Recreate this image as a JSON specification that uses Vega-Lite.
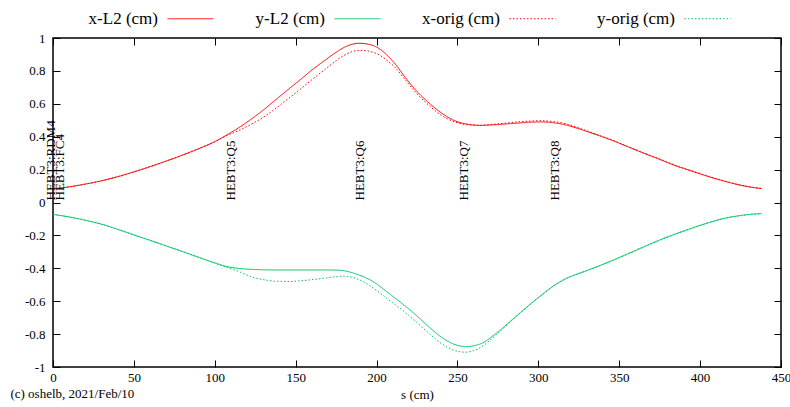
{
  "$schema": "https://vega.github.io/schema/vega-lite/v6.json",
  "width": 728,
  "height": 329,
  "autosize": {"type": "none"},
  "padding": {"left": 53, "top": 38, "right": 9, "bottom": 40},
  "background": "white",
  "config": {
    "font": "Liberation Serif",
    "view": {"stroke": "black", "strokeWidth": 1.5},
    "axis": {
      "labelFont": "Liberation Serif",
      "labelFontSize": 13,
      "labelColor": "black",
      "tickColor": "black",
      "tickWidth": 1,
      "domain": false,
      "grid": false,
      "titleFont": "Liberation Serif",
      "titleFontSize": 13,
      "titleFontWeight": "normal",
      "titleColor": "black"
    },
    "legend": {
      "orient": "none",
      "legendX": 114,
      "legendY": -43,
      "direction": "horizontal",
      "title": null,
      "symbolType": "stroke",
      "symbolSize": 2116,
      "symbolStrokeWidth": 1,
      "labelFont": "Liberation Serif",
      "labelFontSize": 17,
      "labelColor": "black",
      "labelAlign": "right",
      "labelOffset": -56,
      "columnPadding": 39,
      "gridAlign": "each",
      "labelLimit": 200
    }
  },
  "title": {
    "text": "(c) oshelb, 2021/Feb/10",
    "orient": "bottom",
    "anchor": "start",
    "frame": "bounds",
    "font": "Liberation Serif",
    "fontSize": 13,
    "fontWeight": "normal",
    "color": "black",
    "offset": -13,
    "dx": -14
  },
  "datasets": {
    "optics": [
      {"s": 0, "xL2": 0.083, "yL2": -0.072, "xorig": 0.083, "yorig": -0.072},
      {"s": 10, "xL2": 0.095, "yL2": -0.088, "xorig": 0.095, "yorig": -0.088},
      {"s": 20, "xL2": 0.112, "yL2": -0.108, "xorig": 0.112, "yorig": -0.108},
      {"s": 30, "xL2": 0.132, "yL2": -0.132, "xorig": 0.132, "yorig": -0.132},
      {"s": 40, "xL2": 0.157, "yL2": -0.163, "xorig": 0.157, "yorig": -0.163},
      {"s": 50, "xL2": 0.186, "yL2": -0.197, "xorig": 0.186, "yorig": -0.197},
      {"s": 60, "xL2": 0.218, "yL2": -0.23, "xorig": 0.218, "yorig": -0.23},
      {"s": 70, "xL2": 0.252, "yL2": -0.264, "xorig": 0.252, "yorig": -0.264},
      {"s": 80, "xL2": 0.288, "yL2": -0.298, "xorig": 0.288, "yorig": -0.298},
      {"s": 90, "xL2": 0.327, "yL2": -0.333, "xorig": 0.327, "yorig": -0.333},
      {"s": 100, "xL2": 0.37, "yL2": -0.367, "xorig": 0.369, "yorig": -0.369},
      {"s": 107, "xL2": 0.408, "yL2": -0.388, "xorig": 0.405, "yorig": -0.393},
      {"s": 115, "xL2": 0.456, "yL2": -0.401, "xorig": 0.438, "yorig": -0.42},
      {"s": 122, "xL2": 0.503, "yL2": -0.406, "xorig": 0.473, "yorig": -0.45},
      {"s": 130, "xL2": 0.562, "yL2": -0.409, "xorig": 0.518, "yorig": -0.469},
      {"s": 137, "xL2": 0.619, "yL2": -0.41, "xorig": 0.567, "yorig": -0.478},
      {"s": 145, "xL2": 0.684, "yL2": -0.41, "xorig": 0.628, "yorig": -0.48},
      {"s": 153, "xL2": 0.748, "yL2": -0.41, "xorig": 0.69, "yorig": -0.476},
      {"s": 160, "xL2": 0.805, "yL2": -0.41, "xorig": 0.746, "yorig": -0.469},
      {"s": 168, "xL2": 0.864, "yL2": -0.41, "xorig": 0.808, "yorig": -0.46},
      {"s": 175, "xL2": 0.913, "yL2": -0.411, "xorig": 0.862, "yorig": -0.451},
      {"s": 180, "xL2": 0.943, "yL2": -0.415, "xorig": 0.895, "yorig": -0.448},
      {"s": 185, "xL2": 0.962, "yL2": -0.427, "xorig": 0.917, "yorig": -0.455},
      {"s": 189, "xL2": 0.968, "yL2": -0.44, "xorig": 0.925, "yorig": -0.468},
      {"s": 195, "xL2": 0.962, "yL2": -0.465, "xorig": 0.92, "yorig": -0.5},
      {"s": 200, "xL2": 0.945, "yL2": -0.495, "xorig": 0.905, "yorig": -0.535},
      {"s": 206, "xL2": 0.9, "yL2": -0.54, "xorig": 0.868, "yorig": -0.58},
      {"s": 212, "xL2": 0.836, "yL2": -0.585, "xorig": 0.815, "yorig": -0.625},
      {"s": 218, "xL2": 0.757, "yL2": -0.632, "xorig": 0.742, "yorig": -0.67},
      {"s": 225, "xL2": 0.675, "yL2": -0.69, "xorig": 0.661, "yorig": -0.73},
      {"s": 233, "xL2": 0.6, "yL2": -0.762, "xorig": 0.585, "yorig": -0.8},
      {"s": 240, "xL2": 0.545, "yL2": -0.818, "xorig": 0.53, "yorig": -0.857},
      {"s": 247, "xL2": 0.503, "yL2": -0.858, "xorig": 0.495, "yorig": -0.895},
      {"s": 255, "xL2": 0.478, "yL2": -0.876, "xorig": 0.474, "yorig": -0.91},
      {"s": 264, "xL2": 0.469, "yL2": -0.86, "xorig": 0.469, "yorig": -0.882},
      {"s": 275, "xL2": 0.474, "yL2": -0.787, "xorig": 0.478, "yorig": -0.795},
      {"s": 285, "xL2": 0.481, "yL2": -0.702, "xorig": 0.488, "yorig": -0.705},
      {"s": 295, "xL2": 0.488, "yL2": -0.618, "xorig": 0.495, "yorig": -0.619},
      {"s": 301, "xL2": 0.49, "yL2": -0.57, "xorig": 0.497, "yorig": -0.571},
      {"s": 310, "xL2": 0.484, "yL2": -0.503, "xorig": 0.491, "yorig": -0.504},
      {"s": 318, "xL2": 0.469, "yL2": -0.458, "xorig": 0.476, "yorig": -0.459},
      {"s": 326, "xL2": 0.445, "yL2": -0.428, "xorig": 0.45, "yorig": -0.429},
      {"s": 335, "xL2": 0.415, "yL2": -0.395, "xorig": 0.418, "yorig": -0.396},
      {"s": 345, "xL2": 0.38, "yL2": -0.355, "xorig": 0.382, "yorig": -0.357},
      {"s": 355, "xL2": 0.34, "yL2": -0.313, "xorig": 0.342, "yorig": -0.315},
      {"s": 365, "xL2": 0.3, "yL2": -0.27, "xorig": 0.302, "yorig": -0.272},
      {"s": 375, "xL2": 0.262, "yL2": -0.228, "xorig": 0.264, "yorig": -0.23},
      {"s": 385, "xL2": 0.223, "yL2": -0.19, "xorig": 0.225, "yorig": -0.192},
      {"s": 396, "xL2": 0.187, "yL2": -0.152, "xorig": 0.189, "yorig": -0.154},
      {"s": 406, "xL2": 0.155, "yL2": -0.12, "xorig": 0.157, "yorig": -0.122},
      {"s": 416, "xL2": 0.127, "yL2": -0.094, "xorig": 0.128, "yorig": -0.095},
      {"s": 425, "xL2": 0.105, "yL2": -0.079, "xorig": 0.106, "yorig": -0.08},
      {"s": 432, "xL2": 0.092, "yL2": -0.071, "xorig": 0.093, "yorig": -0.072},
      {"s": 438, "xL2": 0.085, "yL2": -0.068, "xorig": 0.086, "yorig": -0.069}
    ],
    "elements": [
      {"name": "HEBT3:RDM4", "s": -1},
      {"name": "HEBT3:FC4", "s": 4.4},
      {"name": "HEBT3:Q5", "s": 110.3},
      {"name": "HEBT3:Q6", "s": 189.7},
      {"name": "HEBT3:Q7", "s": 254.3},
      {"name": "HEBT3:Q8", "s": 310}
    ]
  },
  "layer": [
    {
      "data": {"name": "optics"},
      "transform": [{"fold": ["xL2", "yL2", "xorig", "yorig"], "as": ["series", "v"]}],
      "mark": {"type": "line", "interpolate": "monotone", "strokeWidth": 1, "clip": true},
      "encoding": {
        "x": {
          "field": "s", "type": "quantitative",
          "scale": {"domain": [0, 450], "nice": false, "zero": false},
          "axis": {"orient": "bottom", "values": [0, 50, 100, 150, 200, 250, 300, 350, 400, 450], "tickSize": -7, "labelPadding": 11, "title": "s (cm)", "titlePadding": 4, "labelFlush": false, "labelFont": "Liberation Serif", "titleFont": "Liberation Serif"}
        },
        "y": {
          "field": "v", "type": "quantitative",
          "scale": {"domain": [-1, 1], "nice": false},
          "axis": {"orient": "left", "values": [-1, -0.8, -0.6, -0.4, -0.2, 0, 0.2, 0.4, 0.6, 0.8, 1], "tickSize": -7, "labelPadding": 15, "title": null, "labelExpr": "'' + datum.value", "labelFlush": false, "labelFont": "Liberation Serif"}
        },
        "color": {
          "field": "series", "type": "nominal",
          "scale": {"domain": ["xL2", "yL2", "xorig", "yorig"], "range": ["#ff0000", "#00c864", "#ff0000", "#00c864"]},
          "legend": {"labelFont": "Liberation Serif", "labelExpr": "datum.label == 'xL2' ? 'x-L2 (cm)' : datum.label == 'yL2' ? 'y-L2 (cm)' : datum.label == 'xorig' ? 'x-orig (cm)' : 'y-orig (cm)'"}
        },
        "strokeDash": {
          "field": "series", "type": "nominal",
          "scale": {"domain": ["xL2", "yL2", "xorig", "yorig"], "range": [[1, 0], [1, 0], [1.5, 2], [1.5, 2]]},
          "legend": {"labelFont": "Liberation Serif", "labelExpr": "datum.label == 'xL2' ? 'x-L2 (cm)' : datum.label == 'yL2' ? 'y-L2 (cm)' : datum.label == 'xorig' ? 'x-orig (cm)' : 'y-orig (cm)'"}
        }
      }
    },
    {
      "data": {"name": "elements"},
      "mark": {"type": "text", "angle": 270, "align": "left", "baseline": "middle", "font": "Liberation Serif", "fontSize": 13, "color": "black", "dx": 2},
      "encoding": {
        "x": {"field": "s", "type": "quantitative", "axis": null},
        "y": {"datum": 0, "type": "quantitative", "axis": null},
        "text": {"field": "name"}
      }
    },
    {
      "data": {"name": "elements"},
      "mark": {"type": "point", "opacity": 0},
      "encoding": {
        "x": {
          "field": "s", "type": "quantitative",
          "scale": {"domain": [0, 450], "nice": false, "zero": false},
          "axis": {"orient": "top", "values": [0, 50, 100, 150, 200, 250, 300, 350, 400, 450], "tickSize": -7, "labels": false, "title": null}
        },
        "y": {
          "datum": 0, "type": "quantitative",
          "scale": {"domain": [-1, 1], "nice": false},
          "axis": {"orient": "right", "values": [-1, -0.8, -0.6, -0.4, -0.2, 0, 0.2, 0.4, 0.6, 0.8, 1], "tickSize": -7, "labels": false, "title": null}
        }
      }
    }
  ],
  "resolve": {"axis": {"x": "independent", "y": "independent"}}
}
